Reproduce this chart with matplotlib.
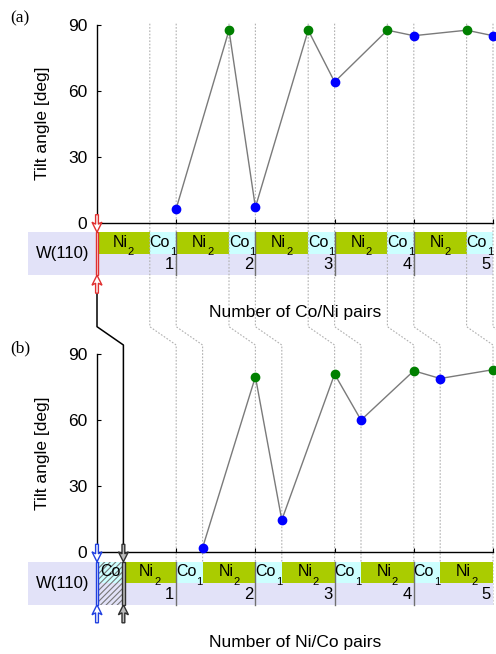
import matplotlib
matplotlib.use('Agg')
import matplotlib.pyplot as plt
from matplotlib import transforms
from matplotlib.patches import Rectangle, Polygon
from matplotlib.lines import Line2D

plt.rcParams['font.family'] = ['Liberation Sans', 'DejaVu Sans']
plt.rcParams['hatch.linewidth'] = 0.8

# ---------------- data ----------------
# (a) W(110)/[Ni2/Co1]xN : monolayer position of each measured point
a_layer = [3, 5, 6, 8, 9, 11, 12, 14, 15]
a_tilt = [6.4, 87.5, 7.0, 87.5, 64.0, 87.5, 85.0, 87.5, 85.0]
a_elem = ['Co', 'Ni', 'Co', 'Ni', 'Co', 'Ni', 'Co', 'Ni', 'Co']
# (b) W(110)/Co/[Ni2/Co1]xN
b_layer = [4, 6, 7, 9, 10, 12, 13, 15]
b_tilt = [2.1, 79.8, 14.7, 81.0, 60.1, 82.5, 79.0, 83.0]
b_elem = ['Co', 'Ni', 'Co', 'Ni', 'Co', 'Ni', 'Co', 'Ni']

a_stack = ['Ni', 'Co', 'Ni', 'Co', 'Ni', 'Co', 'Ni', 'Co', 'Ni', 'Co']
a_thick = [2, 1, 2, 1, 2, 1, 2, 1, 2, 1]
b_stack = ['Cobuf', 'Ni', 'Co', 'Ni', 'Co', 'Ni', 'Co', 'Ni', 'Co', 'Ni']
b_thick = [1, 2, 1, 2, 1, 2, 1, 2, 1, 2]
pair_labels = ['1', '2', '3', '4', '5']
pair_pos = [3, 6, 9, 12, 15]
yticks = [0, 30, 60, 90]
xlabel_a = 'Number of Co/Ni pairs'
xlabel_b = 'Number of Ni/Co pairs'

# ---------------- layout (pixels) ----------------
W, H = 496, 654
AX_L, AX_R = 97, 493
A_TOP, A_BOT = 24.7, 222.7
B_TOP, B_BOT = 354.3, 552.3
S_TOP, S_MID, S_BOT = 9.5, 31.0, 52.5     # strip offsets below axis
W_WIDTH = 2.6                              # W(110) box width in ML units
KINK1, KINK2 = 326.7, 345.0

C_NI = '#aacc00'
C_CO = '#ccffff'
C_LAV = '#e2e2f8'
C_DOT = '#b0b0b0'

fig = plt.figure(figsize=(W / 100, H / 100), dpi=100)
renderer = fig.canvas.get_renderer()
T = transforms.Affine2D().scale(1, -1).translate(0, H)


def make_ax(top, bot):
    ax = fig.add_axes([AX_L / W, 1 - bot / H, (AX_R - AX_L) / W, (bot - top) / H])
    ax.set_facecolor('none')
    ax.set_xlim(0, 15)
    ax.set_ylim(0, 90)
    for s in ['top', 'right']:
        ax.spines[s].set_visible(False)
    for s in ['left', 'bottom']:
        ax.spines[s].set_linewidth(1.0)
    ax.set_yticks(yticks)
    ax.set_xticks(pair_pos)
    ax.tick_params(axis='y', direction='in', length=3, labelsize=12.5, pad=7)
    ax.tick_params(axis='x', direction='in', length=3, labelbottom=False)
    ax.set_ylabel('Tilt angle [deg]', fontsize=12.5)
    ax.yaxis.set_label_coords((50 - AX_L) / (AX_R - AX_L), 0.5)
    return ax


ax_a = make_ax(A_TOP, A_BOT)
ax_b = make_ax(B_TOP, B_BOT)
trA = transforms.blended_transform_factory(ax_a.transData, T)
trB = transforms.blended_transform_factory(ax_b.transData, T)


def text_width(s, size):
    t = fig.text(0, 0, s, fontsize=size)
    w = t.get_window_extent(renderer).width
    t.remove()
    return w


def sub_label(ax, tr, xc, top, main, sub):
    fm, fs, gap = 11.5, 8.0, 0.0
    wm, ws = text_width(main, fm), text_width(sub, fs)
    left = -(wm + gap + ws) / 2
    ax.text(xc, top + 14.7, main, ha='left', va='baseline', fontsize=fm, clip_on=False, zorder=4,
            transform=transforms.offset_copy(tr, fig=fig, x=left, y=0, units='dots'))
    ax.text(xc, top + 22.8, sub, ha='left', va='baseline', fontsize=fs, clip_on=False, zorder=4,
            transform=transforms.offset_copy(tr, fig=fig, x=left + wm + gap, y=0, units='dots'))


def draw_strip(ax, tr, stack, thick, base):
    top, mid, bot = base + S_TOP, base + S_MID, base + S_BOT
    ax.add_patch(Rectangle((-W_WIDTH, top), W_WIDTH + sum(thick), bot - top, fc=C_LAV, ec='none',
                           transform=tr, clip_on=False, zorder=1))
    ax.text(-W_WIDTH / 2, (top + bot) / 2, 'W(110)', ha='center', va='center', fontsize=12,
            transform=tr, clip_on=False, zorder=4)
    x0 = 0
    for el, t in zip(stack, thick):
        if el == 'Cobuf':
            ax.add_patch(Rectangle((x0, top), t, mid - top, fc=C_CO, ec='none', transform=tr,
                                   clip_on=False, zorder=1))
            ax.add_patch(Rectangle((x0, top), t, bot - top, fc='none', ec='#777777', lw=0,
                                   hatch='//////', transform=tr, clip_on=False, zorder=1.2))
            ax.text(x0 + t / 2, top + 14.7, 'Co', ha='center', va='baseline', fontsize=11.5,
                    transform=tr, clip_on=False, zorder=4)
        else:
            col = C_NI if el == 'Ni' else C_CO
            ax.add_patch(Rectangle((x0, top), t, mid - top, fc=col, ec='none', transform=tr,
                                   clip_on=False, zorder=1))
            sub_label(ax, tr, x0 + t / 2, top, el, str(t))
        x0 += t
    for p, lab in zip(pair_pos, pair_labels):
        if p < 15:
            ax.add_line(Line2D([p, p], [top, bot], color='#707070', lw=1.0, transform=tr,
                               clip_on=False, zorder=2))
        off = transforms.offset_copy(tr, fig=fig, x=-2, y=0, units='dots')
        ax.text(p, (mid + bot) / 2, lab, ha='right', va='center', fontsize=12,
                transform=off, clip_on=False, zorder=4)


draw_strip(ax_a, trA, a_stack, a_thick, A_BOT)
draw_strip(ax_b, trB, b_stack, b_thick, B_BOT)

# dotted guide lines linking layer boundaries of (a) to (b)
bounds = []
x0 = 0
for t in a_thick:
    x0 += t
    bounds.append(x0)
for n in bounds:
    ax_a.add_line(Line2D([n, n, n + 1, n + 1], [A_TOP - 1, KINK1, KINK2, B_BOT + S_BOT],
                         color=C_DOT, lw=0.8, ls=(0, (1.5, 1.5)), transform=trA,
                         clip_on=False, zorder=1.5))

# black line from (a) y-axis to (b) substrate interface
ax_a.add_line(Line2D([0, 0, 1, 1], [A_BOT + 68, KINK1, KINK2, B_BOT - 6], color='black', lw=1.1,
                     transform=trA, clip_on=False, zorder=2))


def double_arrow(ax, n, base, color, fill='white'):
    x = ax.transData.transform((n, 0))[0]
    top, bot = base + S_TOP, base + S_BOT
    hw, hh, hl = 1.4, 5.0, 10.0
    y0, y1 = base - 8, bot + 18
    up = [(x - hw, y0), (x - hw, top - hl + 2), (x - hh, top - hl), (x, top),
          (x + hh, top - hl), (x + hw, top - hl + 2), (x + hw, y0)]
    dn = [(x - hw, y1), (x - hw, bot + hl - 2), (x - hh, bot + hl), (x, bot),
          (x + hh, bot + hl), (x + hw, bot + hl - 2), (x + hw, y1)]
    for pts in (up, dn):
        fig.add_artist(Polygon(pts, closed=True, fc=fill, ec=color, lw=1.0, transform=T, zorder=5))
    fig.add_artist(Rectangle((x - hw, top), 2 * hw, bot - top, fc=fill, ec=color, lw=1.0,
                             transform=T, zorder=5))


double_arrow(ax_a, 0, A_BOT, '#e03030')
double_arrow(ax_b, 0, B_BOT, '#2040e0')
double_arrow(ax_b, 1, B_BOT, '#303030', fill='#bbbbbb')

# data
for ax, xs, ys, els in [(ax_a, a_layer, a_tilt, a_elem), (ax_b, b_layer, b_tilt, b_elem)]:
    ax.plot(xs, ys, color='#7a7a7a', lw=1.0, zorder=5, clip_on=False)
    for el, col in [('Co', '#0000ff'), ('Ni', '#008000')]:
        px = [x for x, e in zip(xs, els) if e == el]
        py = [y for y, e in zip(ys, els) if e == el]
        ax.plot(px, py, ls='none', marker='o', ms=6, mfc=col, mec=col, zorder=6, clip_on=False)

# labels
cx = (AX_L + AX_R) / 2
fig.text(cx / W, 1 - 312 / H, xlabel_a, ha='center', va='center', fontsize=12.5)
fig.text(cx / W, 1 - 642 / H, xlabel_b, ha='center', va='center', fontsize=12.5)
fig.text(10 / W, 1 - 18 / H, '(a)', ha='left', va='center', fontsize=12.5, family='Liberation Serif')
fig.text(10 / W, 1 - 348 / H, '(b)', ha='left', va='center', fontsize=12.5, family='Liberation Serif')

fig.savefig('out.png', dpi=100)
